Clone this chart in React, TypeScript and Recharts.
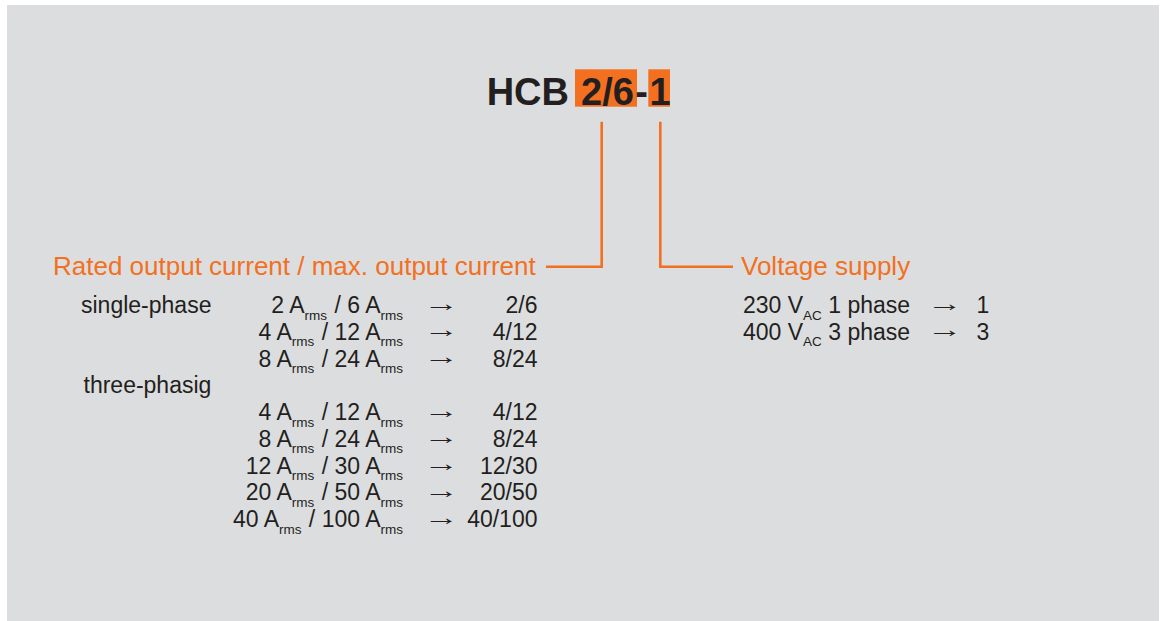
import React from "react";
import { ComposedChart, Scatter, XAxis, YAxis, Customized } from "recharts";

// ---- content ----
const titleModel = "HCB";
const titleCurrentCode = "2/6";
const titleSeparator = "-";
const titleVoltageCode = "1";
const ratedHeading = "Rated output current / max. output current";
const voltageHeading = "Voltage supply";
const groupLabels = ["single-phase", "three-phasig"];
const singleRated = [2, 4, 8];
const singleMax = [6, 12, 24];
const threeRated = [4, 8, 12, 20, 40];
const threeMax = [12, 24, 30, 50, 100];
const supplyVoltages = [230, 400];
const supplyPhases = [1, 3];
const currentUnitSub = "rms";
const voltageUnitSub = "AC";
const arrow = "\u2192";

// ---- rows built from the arrays ----
type CurrentRow = { col: number; row: number; group?: string; rated?: number; max?: number };
const currentRows: CurrentRow[] = [
  ...singleRated.map((r, i) => ({ col: 0, row: i, group: i === 0 ? groupLabels[0] : undefined, rated: r, max: singleMax[i] })),
  { col: 0, row: singleRated.length, group: groupLabels[1] },
  ...threeRated.map((r, i) => ({ col: 0, row: singleRated.length + 1 + i, rated: r, max: threeMax[i] })),
];
const voltageRows = supplyVoltages.map((v, i) => ({ col: 1, row: i, volt: v, phase: supplyPhases[i] }));

// ---- style ----
const FONT = '"Liberation Sans", Arial, Helvetica, sans-serif';
const INK = "#231f20";
const ORANGE = "#f37021";
const BG = "#dcdddf";
const OX = 7;
const OY = 5;
const W = 1152;
const H = 616;
const BODY = 23;
const SUB = 13.5;
const SUBDY = 6.5;

const Arrow = ({ x, y }: { x: number; y: number }) => (
  <text
    transform={`translate(${x},${y - 2.5}) scale(1.55,1)`}
    x={0}
    y={0}
    fontFamily={FONT}
    fontSize={BODY}
    textAnchor="middle"
    fill={INK}
  >
    {arrow}
  </text>
);

const CurrentRowShape = (props: any) => {
  const { cx, cy, payload } = props;
  const p = payload as CurrentRow;
  return (
    <g fontFamily={FONT} fill={INK}>
      {p.group && (
        <text x={cx - (p.row === 0 ? 322 : 319.5)} y={cy} fontSize={BODY}>
          {p.group}
        </text>
      )}
      {p.rated != null && (
        <>
          <text x={cx} y={cy} fontSize={BODY} textAnchor="end">
            <tspan>{`${p.rated} A`}</tspan>
            <tspan fontSize={SUB} dy={SUBDY}>{currentUnitSub}</tspan>
            <tspan dy={-SUBDY} dx={1}>{` / ${p.max} A`}</tspan>
            <tspan fontSize={SUB} dy={SUBDY}>{currentUnitSub}</tspan>
          </text>
          <Arrow x={cx + 38.5} y={cy} />
          <text x={cx + 134.5} y={cy} fontSize={BODY} textAnchor="end">
            {`${p.rated}/${p.max}`}
          </text>
        </>
      )}
    </g>
  );
};

const VoltageRowShape = (props: any) => {
  const { cx, cy, payload } = props;
  return (
    <g fontFamily={FONT} fill={INK}>
      <text x={cx} y={cy} fontSize={BODY}>
        <tspan>{`${payload.volt} V`}</tspan>
        <tspan fontSize={SUB} dy={SUBDY}>{voltageUnitSub}</tspan>
        <tspan dy={-SUBDY}>{` ${payload.phase} phase`}</tspan>
      </text>
      <Arrow x={cx + 202} y={cy} />
      <text x={cx + 240} y={cy} fontSize={BODY} textAnchor="middle">
        {`${payload.phase}`}
      </text>
    </g>
  );
};

const Header = () => (
  <g transform={`translate(${-OX},${-OY})`} fontFamily={FONT}>
    <rect x={575} y={69.3} width={62} height={37.4} fill={ORANGE} />
    <rect x={648.3} y={69.3} width={21.7} height={37.4} fill={ORANGE} />
    <g fontSize={38} fontWeight="bold" fill={INK}>
      <text x={569} y={104.5} textAnchor="end">{titleModel}</text>
      <text x={607.5} y={104.5} textAnchor="middle">{titleCurrentCode}</text>
      <text x={641.7} y={104.5} textAnchor="middle">{titleSeparator}</text>
      <text x={660} y={104.5} textAnchor="middle">{titleVoltageCode}</text>
    </g>
    <polyline
      points="546,266.7 601.7,266.7 601.7,121.7"
      fill="none"
      stroke={ORANGE}
      strokeWidth={2.6}
    />
    <polyline
      points="660.3,121.7 660.3,266.7 733,266.7"
      fill="none"
      stroke={ORANGE}
      strokeWidth={2.6}
    />
    <text x={53} y={275} fontSize={26} fill={ORANGE}>{ratedHeading}</text>
    <text x={741} y={275} fontSize={26} fill={ORANGE}>{voltageHeading}</text>
  </g>
);

export default function App() {
  return (
    <div style={{ position: "absolute", left: 0, top: 0, width: 1160, height: 621, background: "#ffffff" }}>
      <div style={{ position: "absolute", left: OX, top: OY, width: W, height: H, background: BG }}>
        <ComposedChart
          width={W}
          height={H}
          margin={{ top: 313 - OY, bottom: H - (527 - OY), left: 403 - OX, right: W - (743 - OX) }}
        >
          <XAxis type="number" dataKey="col" domain={[0, 1]} hide />
          <YAxis type="number" dataKey="row" domain={[0, 8]} reversed hide />
          <Customized component={Header} />
          <Scatter data={currentRows} shape={CurrentRowShape} isAnimationActive={false} />
          <Scatter data={voltageRows} shape={VoltageRowShape} isAnimationActive={false} />
        </ComposedChart>
      </div>
    </div>
  );
}
